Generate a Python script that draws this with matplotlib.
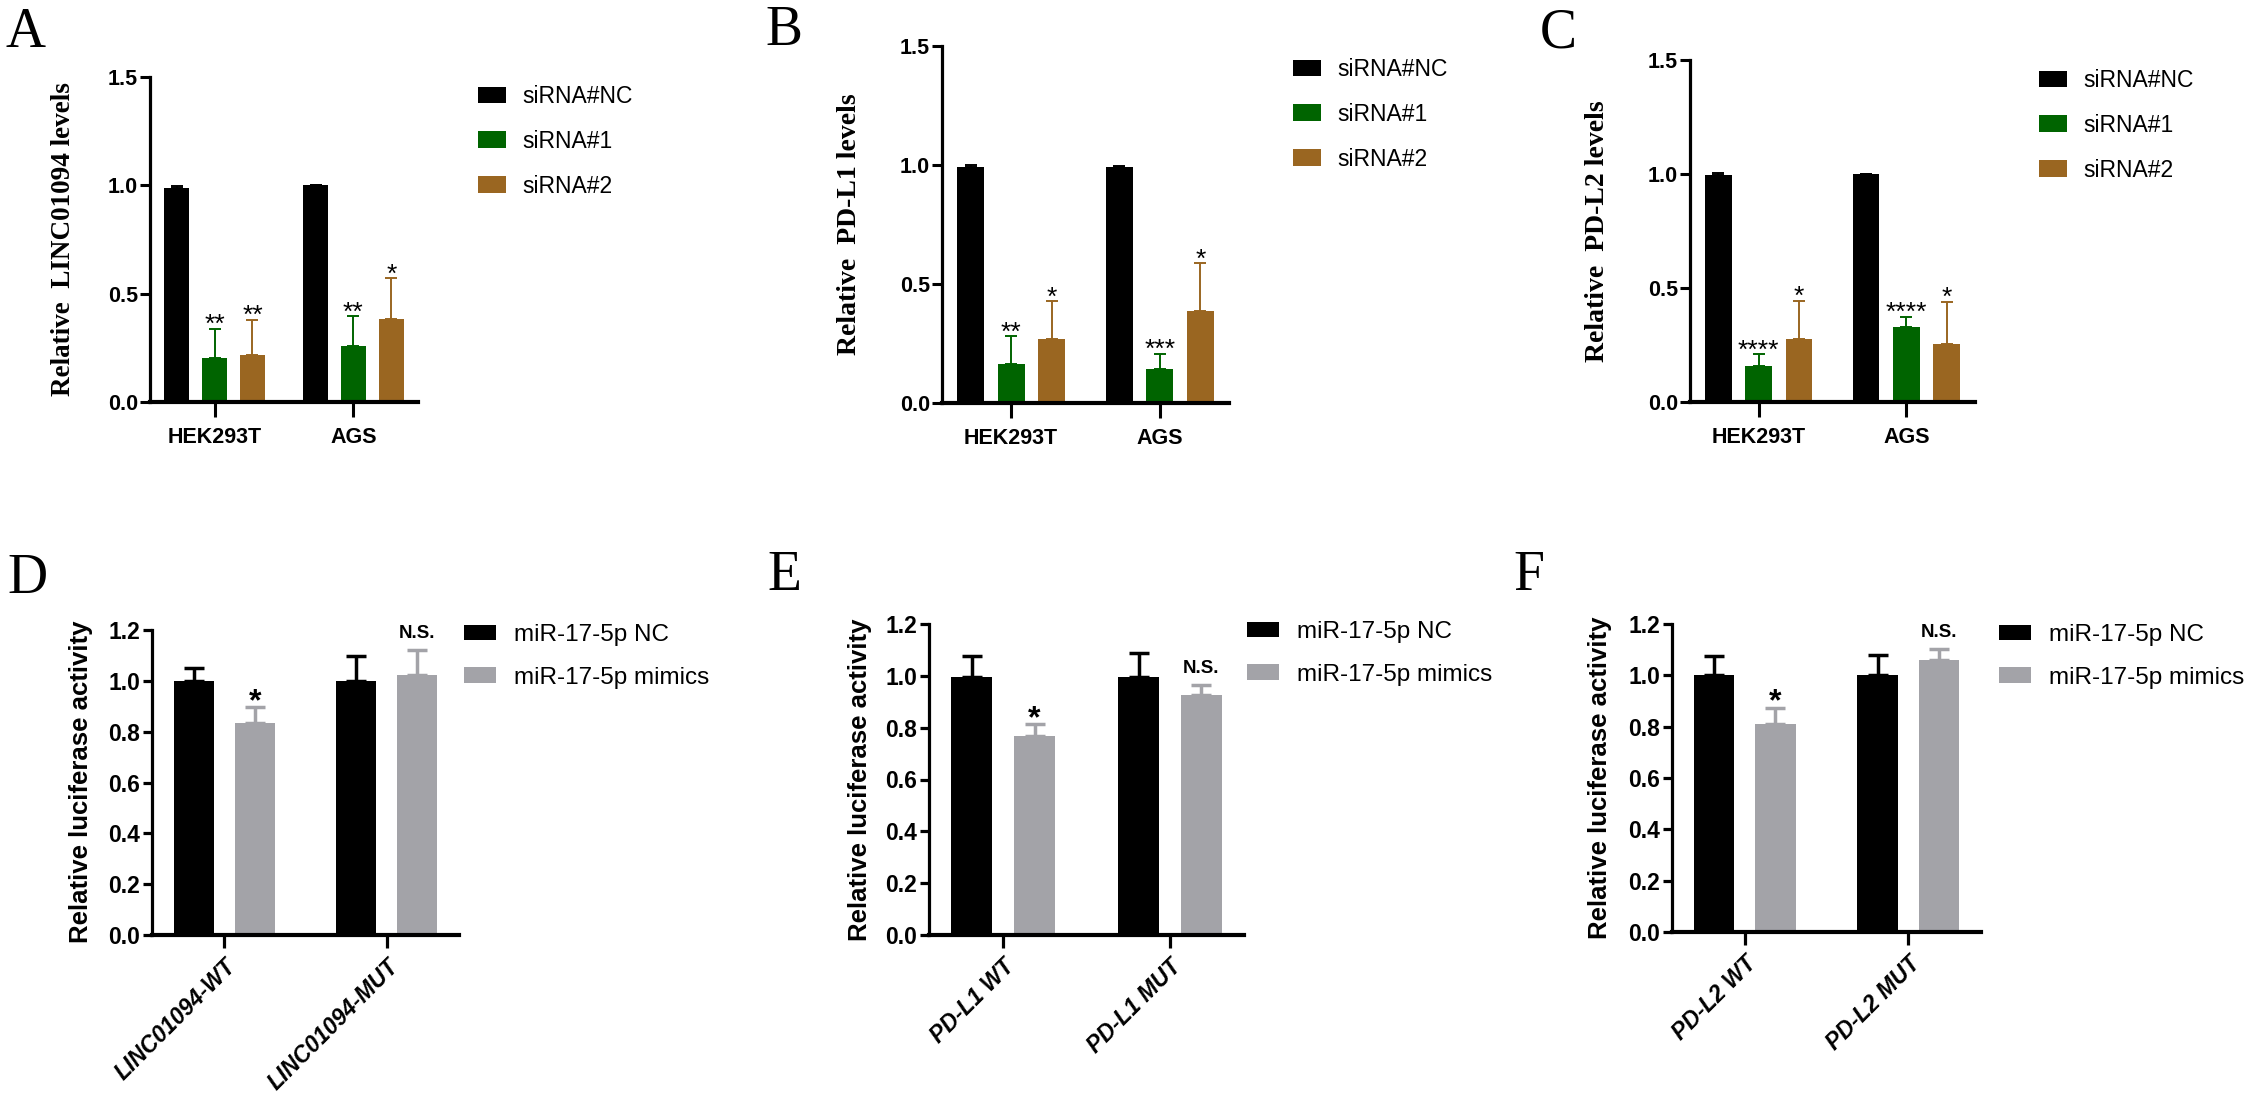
import numpy as np
import matplotlib
matplotlib.use('Agg')
import matplotlib.pyplot as plt

plt.rcParams['font.family'] = ['Liberation Sans', 'DejaVu Sans']

W, H = 2257, 1097

# top row: qPCR after siRNA knockdown
cells = ['HEK293T', 'AGS']
sirna = ['siRNA#NC', 'siRNA#1', 'siRNA#2']
sirna_colors = ['#000000', '#006400', '#9a6621']

linc_mean = [[0.99, 1.00], [0.205, 0.257], [0.218, 0.383]]
linc_sd = [[0.007, 0.0], [0.133, 0.138], [0.162, 0.188]]
linc_sig = [['', ''], ['**', '**'], ['**', '*']]

pdl1_mean = [[0.993, 0.993], [0.165, 0.143], [0.269, 0.388]]
pdl1_sd = [[0.005, 0.004], [0.115, 0.064], [0.158, 0.200]]
pdl1_sig = [['', ''], ['**', '***'], ['*', '*']]

pdl2_mean = [[0.996, 1.00], [0.156, 0.329], [0.277, 0.256]]
pdl2_sd = [[0.007, 0.0], [0.054, 0.046], [0.167, 0.184]]
pdl2_sig = [['', ''], ['****', '****'], ['*', '*']]

# bottom row: luciferase reporter
mir = ['miR-17-5p NC', 'miR-17-5p mimics']
mir_colors = ['#000000', '#a3a3a8']

luc_linc_groups = ['LINC01094-WT', 'LINC01094-MUT']
luc_linc_mean = [[1.00, 1.00], [0.833, 1.023]]
luc_linc_sd = [[0.050, 0.098], [0.063, 0.098]]

luc_pdl1_groups = ['PD-L1 WT', 'PD-L1 MUT']
luc_pdl1_mean = [[0.995, 0.995], [0.768, 0.925]]
luc_pdl1_sd = [[0.080, 0.092], [0.045, 0.040]]

luc_pdl2_groups = ['PD-L2 WT', 'PD-L2 MUT']
luc_pdl2_mean = [[1.00, 1.00], [0.811, 1.060]]
luc_pdl2_sd = [[0.074, 0.080], [0.062, 0.043]]

luc_sig = ['*', 'N.S.']

fig = plt.figure(figsize=(W / 100, H / 100), dpi=100)


def add_ax(l, t, r, b):
    return fig.add_axes([l / W, 1 - b / H, (r - l) / W, (b - t) / H])


def style(ax, rect, ylabel, lab_c, serif, ysize):
    l, t, r, b = rect
    for s in ['top', 'right']:
        ax.spines[s].set_visible(False)
    ax.spines['left'].set_linewidth(2.3)
    ax.spines['bottom'].set_linewidth(3.0)
    if serif:
        ax.set_ylabel(ylabel, family='Liberation Serif', weight='bold', fontsize=ysize)
    else:
        ax.set_ylabel(ylabel, weight='bold', fontsize=ysize)
    ax.yaxis.set_label_coords((lab_c[0] - l) / (r - l), (b - lab_c[1]) / (b - t))
    ax.yaxis.label.set_va('center')
    for tl in ax.get_yticklabels():
        tl.set_fontweight('bold')


def letter(ch, x, y):
    fig.text(x / W, 1 - y / H, ch, family='Liberation Serif', fontsize=40,
             ha='left', va='baseline')


def top_panel(rect, means, sds, sigs, ylabel, lab_c, leg_xy, ysize):
    ax = add_ax(*rect)
    x = np.arange(len(cells))
    for i in range(len(sirna)):
        pos = x + (i - 1) * 0.273
        m = np.array(means[i])
        s = np.array(sds[i])
        ax.bar(pos, m, width=0.18, color=sirna_colors[i], label=sirna[i])
        ax.errorbar(pos, m, yerr=[np.zeros_like(s), s], fmt='none', ecolor=sirna_colors[i],
                    elinewidth=1.4, capsize=4.5, capthick=1.4)
        for p, top, txt in zip(pos, m + s, sigs[i]):
            if txt:
                ax.annotate(txt, (p, top), xytext=(0, -2.5), textcoords='offset points',
                            ha='center', va='baseline', fontsize=19)
    ax.set_xlim(-0.465, 1.465)
    ax.set_ylim(0, 1.5)
    ax.set_yticks([0, 0.5, 1.0, 1.5])
    ax.yaxis.set_major_formatter('{x:.1f}')
    ax.set_xticks(x, cells, fontweight='bold', fontsize=15.5)
    ax.tick_params(axis='y', length=7, width=2.2, pad=1.5, labelsize=15.5)
    ax.tick_params(axis='x', length=10.8, width=2.2, pad=7)
    style(ax, rect, ylabel, lab_c, True, ysize)
    ax.legend(loc='upper left', bbox_to_anchor=(leg_xy[0] / W, 1 - leg_xy[1] / H),
              bbox_transform=fig.transFigure, frameon=False, fontsize=16.5,
              handlelength=1.22, handleheight=0.75, handletextpad=0.7,
              labelspacing=0.95, borderpad=0, borderaxespad=0)
    return ax


def bottom_panel(rect, groups, means, sds, lab_c, leg_xy):
    ax = add_ax(*rect)
    x = np.arange(len(groups))
    for i in range(len(mir)):
        pos = x + (i - 0.5) * 0.376
        m = np.array(means[i])
        s = np.array(sds[i])
        ax.bar(pos, m, width=0.245, color=mir_colors[i], label=mir[i])
        ax.errorbar(pos, m, yerr=[np.zeros_like(s), s], fmt='none', ecolor=mir_colors[i],
                    elinewidth=2.5, capsize=7, capthick=2.5)
        if i == 1:
            for p, top, txt in zip(pos, m + s, luc_sig):
                if txt == '*':
                    ax.annotate(txt, (p, top), xytext=(0, -2), textcoords='offset points',
                                ha='center', va='baseline', fontsize=23, fontweight='bold')
                else:
                    ax.annotate(txt, (p, top), xytext=(0, 8.5), textcoords='offset points',
                                ha='center', va='baseline', fontsize=13.5, fontweight='bold')
    ax.set_xlim(-0.445, 1.445)
    ax.set_ylim(0, 1.2)
    ax.set_yticks(np.arange(0, 1.21, 0.2))
    ax.yaxis.set_major_formatter('{x:.1f}')
    ax.set_xticks(x, groups, rotation=45, ha='right', rotation_mode='anchor',
                  fontweight='bold', fontstyle='italic', fontsize=16.5)
    ax.tick_params(axis='y', length=6.5, width=2.3, pad=2, labelsize=16.5)
    ax.tick_params(axis='x', length=9.4, width=2.3, pad=5)
    style(ax, rect, 'Relative luciferase activity', lab_c, False, 18.5)
    ax.legend(loc='upper left', bbox_to_anchor=(leg_xy[0] / W, 1 - leg_xy[1] / H),
              bbox_transform=fig.transFigure, frameon=False, fontsize=17.5,
              handlelength=1.32, handleheight=0.62, handletextpad=0.74,
              labelspacing=0.85, borderpad=0, borderaxespad=0)
    return ax


top_panel((150, 77, 418, 402), linc_mean, linc_sd, linc_sig,
          'Relative  LINC01094 levels', (63, 239), (478, 85), 19.5)
top_panel((942, 46, 1229, 403), pdl1_mean, pdl1_sd, pdl1_sig,
          'Relative  PD-L1 levels', (850, 224), (1293, 58), 20)
top_panel((1690, 60, 1975, 402), pdl2_mean, pdl2_sd, pdl2_sig,
          'Relative  PD-L2 levels', (1598, 231), (2039, 69), 20)

bottom_panel((152, 630, 459, 935), luc_linc_groups, luc_linc_mean, luc_linc_sd,
             (81, 782), (464, 624))
bottom_panel((929, 624, 1244, 935), luc_pdl1_groups, luc_pdl1_mean, luc_pdl1_sd,
             (860, 780), (1247, 621))
bottom_panel((1672, 624, 1981, 932), luc_pdl2_groups, luc_pdl2_mean, luc_pdl2_sd,
             (1600, 778), (1999, 624))

letter('A', 5, 47)
letter('B', 765, 45)
letter('C', 1540, 47)
letter('D', 7, 593)
letter('E', 767, 590)
letter('F', 1513, 590)

fig.savefig('out.png', dpi=100)
